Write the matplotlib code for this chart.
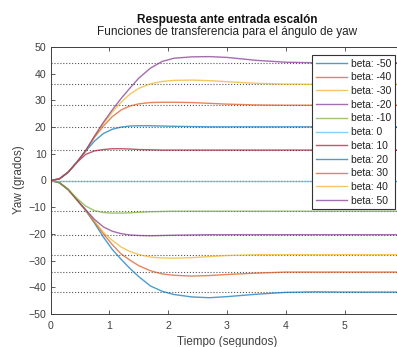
import matplotlib
matplotlib.use("Agg")
import matplotlib.pyplot as plt

plt.rcParams['font.family'] = ['Liberation Sans', 'DejaVu Sans']

# step responses (yaw angle, degrees) for each beta
t = [0, 0.15, 0.3, 0.45, 0.6, 0.75, 0.9, 1.05, 1.2, 1.35, 1.5, 1.7, 1.9,
     2.1, 2.4, 2.7, 3.0, 3.5, 4.0, 4.5, 5.0, 6.0]

betas = [-50, -40, -30, -20, -10, 0, 10, 20, 30, 40, 50]

y_m50 = [0, -0.8, -3.4, -7.3, -11.3, -16.0, -21.2, -25.8, -29.5, -32.9, -36.0, -39.5,
         -41.5, -42.7, -43.6, -43.9, -43.5, -42.6, -41.9, -41.7, -41.8, -41.8]
y_m40 = [0, -0.8, -3.4, -7.3, -11.2, -15.6, -20.0, -24.0, -27.5, -29.8, -31.9, -33.8,
         -35.0, -35.5, -35.8, -35.6, -35.2, -34.7, -34.3, -34.3, -34.3, -34.3]
y_m30 = [0, -0.8, -3.4, -7.3, -11.1, -15.3, -19.4, -22.4, -24.9, -26.6, -27.7, -28.7,
         -29.0, -29.1, -28.9, -28.5, -28.1, -27.8, -27.8, -27.8, -27.8, -27.8]
y_m20 = [0, -0.8, -3.4, -7.2, -11.0, -14.6, -17.4, -19.0, -19.9, -20.4, -20.6, -20.7,
         -20.6, -20.5, -20.4, -20.3, -20.3, -20.3, -20.3, -20.3, -20.3, -20.3]
y_m10 = [0, -0.7, -3.2, -6.7, -9.6, -11.3, -12.0, -12.2, -12.2, -12.1, -11.9, -11.7,
         -11.6, -11.5, -11.5, -11.5, -11.5, -11.5, -11.5, -11.5, -11.5, -11.5]
y_0 = [0] * len(t)
y_10 = [0, 0.6, 3.1, 6.8, 9.8, 11.1, 11.6, 11.9, 11.9, 11.8, 11.6, 11.5,
        11.4, 11.4, 11.4, 11.4, 11.4, 11.4, 11.4, 11.4, 11.4, 11.4]
y_20 = [0, 0.6, 3.1, 6.9, 11.0, 14.8, 17.6, 19.2, 20.0, 20.4, 20.5, 20.5,
        20.4, 20.3, 20.2, 20.1, 20.1, 20.1, 20.1, 20.1, 20.1, 20.1]
y_30 = [0, 0.6, 3.1, 6.9, 11.2, 16.2, 20.4, 23.9, 26.4, 27.9, 28.7, 29.2,
        29.3, 29.3, 29.2, 28.9, 28.6, 28.3, 28.2, 28.2, 28.2, 28.2]
y_40 = [0, 0.6, 3.1, 6.9, 11.3, 16.5, 21.3, 25.6, 29.3, 32.3, 34.5, 36.2,
        37.1, 37.5, 37.6, 37.4, 37.0, 36.4, 36.1, 36.0, 36.0, 36.0]
y_50 = [0, 0.6, 3.1, 6.9, 11.3, 16.7, 21.8, 26.4, 30.7, 34.6, 38.3, 42.1,
        44.6, 45.8, 46.3, 46.4, 46.1, 45.0, 44.3, 44.1, 44.1, 44.1]

responses = [y_m50, y_m40, y_m30, y_m20, y_m10, y_0, y_10, y_20, y_30, y_40, y_50]

colors = ['#0072BD', '#D95319', '#EDB120', '#7E2F8E', '#77AC30', '#4DBEEE',
          '#A2142F', '#0072BD', '#D95319', '#EDB120', '#7E2F8E']

fig = plt.figure(figsize=(3.97, 3.47), dpi=100)
ax = fig.add_axes([50.5 / 397, 33 / 347, 352.8 / 397, 267 / 347])

# steady-state reference lines
for y in responses:
    ax.axhline(y[-1], color='#555555', linestyle=':', linewidth=0.8, zorder=1)

for b, y, c in zip(betas, responses, colors):
    ax.plot(t, y, color=c, linewidth=1.0, alpha=0.7, label=f'beta: {b}', zorder=2)

ax.set_xlim(0, 6)
ax.set_ylim(-50, 50)
ax.set_xticks(range(0, 6))
ax.set_yticks(range(-50, 51, 10))
ax.tick_params(direction='in', top=True, right=True, length=3, width=0.6,
               labelsize=7.6, colors='#404040', pad=3)
ax.tick_params(axis='x', pad=5)
for s in ax.spines.values():
    s.set_color('#404040')
    s.set_linewidth(0.7)

fig.text(226.9 / 397, 1 - 20 / 347, 'Respuesta ante entrada escalón',
         fontsize=8.5, fontweight='bold', ha='center', va='center', color='#111111')
fig.text(226.9 / 397, 1 - 32 / 347, 'Funciones de transferencia para el ángulo de yaw',
         fontsize=8.5, ha='center', va='center', color='#222222')
fig.text(226.9 / 397, 1 - 341.5 / 347, 'Tiempo (segundos)',
         fontsize=8.4, ha='center', va='center', color='#404040')
fig.text(19 / 397, 1 - 180 / 347, 'Yaw (grados)', rotation=90,
         fontsize=8.4, ha='center', va='center', color='#404040')

leg = ax.legend(loc='upper right', bbox_to_anchor=(0.9765, 0.970), borderaxespad=0,
                fontsize=7.4, frameon=True, fancybox=False, framealpha=1,
                handlelength=3.1, handletextpad=0.35, labelspacing=0.36,
                borderpad=0.35)
leg.get_frame().set_edgecolor('#333333')
leg.get_frame().set_linewidth(0.8)
for txt in leg.get_texts():
    txt.set_color('#222222')

fig.savefig('out.png', dpi=100)
